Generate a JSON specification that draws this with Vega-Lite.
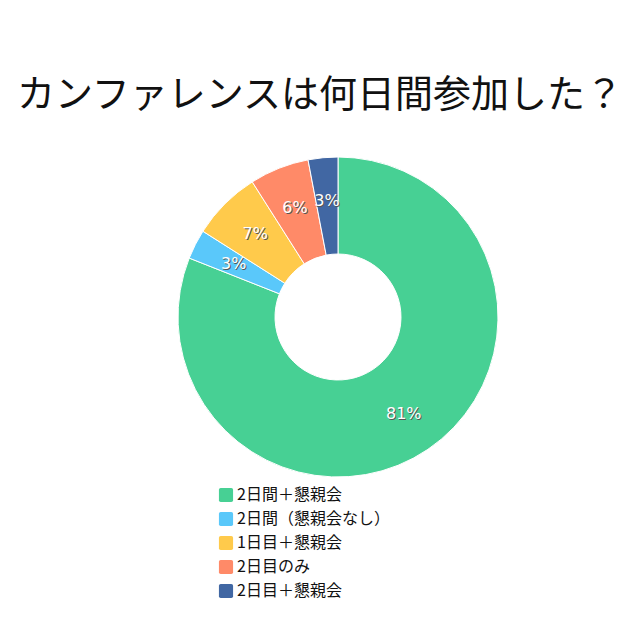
{
  "$schema": "https://vega.github.io/schema/vega-lite/v6.json",
  "autosize": "none",
  "width": 676,
  "height": 354,
  "padding": {"left": 0, "top": 140, "right": 0, "bottom": 146},
  "background": "white",
  "title": {
    "text": "カンファレンスは何日間参加した？",
    "font": "Noto Sans CJK JP",
    "fontSize": 38,
    "fontWeight": "normal",
    "color": "#111111",
    "anchor": "middle",
    "dx": -18,
    "offset": 25
  },
  "data": {
    "values": [
      {"category": "2日間＋懇親会", "value": 81, "order": 1, "label": "81%"},
      {"category": "2日間（懇親会なし）", "value": 3, "order": 2, "label": "3%"},
      {"category": "1日目＋懇親会", "value": 7, "order": 3, "label": "7%"},
      {"category": "2日目のみ", "value": 6, "order": 4, "label": "6%"},
      {"category": "2日目＋懇親会", "value": 3, "order": 5, "label": "3%"}
    ]
  },
  "encoding": {
    "theta": {"field": "value", "type": "quantitative", "stack": true},
    "order": {"field": "order", "type": "quantitative"},
    "color": {
      "field": "category",
      "type": "nominal",
      "sort": ["2日間＋懇親会", "2日間（懇親会なし）", "1日目＋懇親会", "2日目のみ", "2日目＋懇親会"],
      "scale": {
        "domain": ["2日間＋懇親会", "2日間（懇親会なし）", "1日目＋懇親会", "2日目のみ", "2日目＋懇親会"],
        "range": ["#47D094", "#5AC8FA", "#FFCA4B", "#FF8A68", "#4167A3"]
      },
      "legend": {
        "title": null,
        "orient": "none",
        "legendX": 218,
        "legendY": 347,
        "columns": 1,
        "symbolType": "M-0.75,-1 H0.75 Q1,-1 1,-0.75 V0.75 Q1,1 0.75,1 H-0.75 Q-1,1 -1,0.75 V-0.75 Q-1,-1 -0.75,-1 Z",
        "symbolSize": 200,
        "symbolStrokeWidth": 0,
        "symbolOpacity": 1,
        "labelFont": "Noto Sans CJK JP",
        "labelFontSize": 16,
        "labelColor": "#111111",
        "rowPadding": 8,
        "labelOffset": 3
      }
    }
  },
  "layer": [
    {
      "mark": {"type": "arc", "outerRadius": 160, "innerRadius": 63, "stroke": "white", "strokeWidth": 1}
    },
    {
      "mark": {"type": "text", "radius": 117, "font": "DejaVu Sans", "fontSize": 16, "dx": 1, "dy": 1},
      "encoding": {"text": {"field": "label"}, "color": {"value": "#555555"}}
    },
    {
      "mark": {"type": "text", "radius": 117, "font": "DejaVu Sans", "fontSize": 16},
      "encoding": {"text": {"field": "label"}, "color": {"value": "white"}}
    }
  ]
}
